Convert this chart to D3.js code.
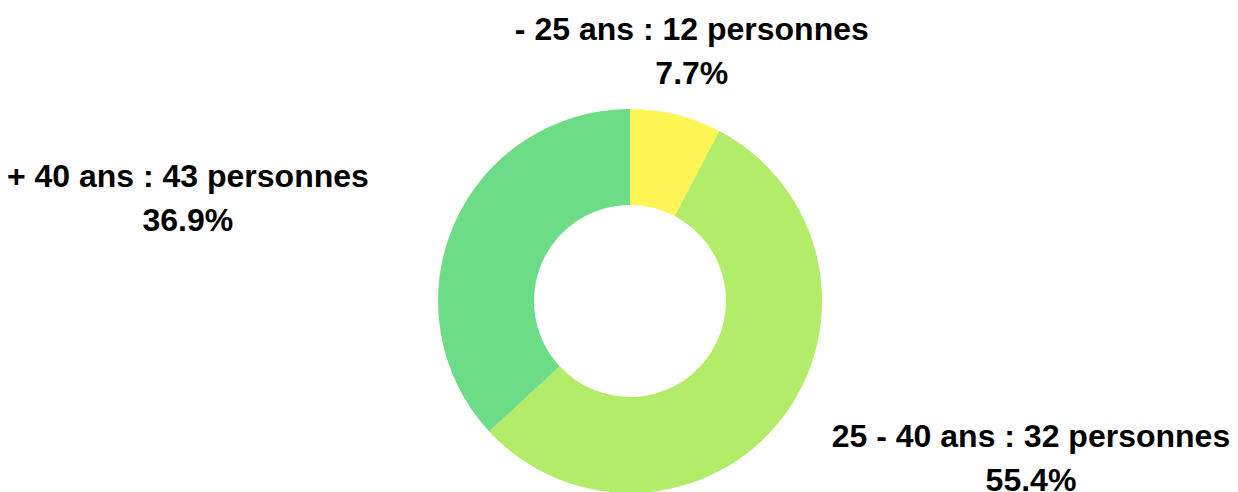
<!DOCTYPE html>
<html>
<head>
<meta charset="utf-8">
<script src="https://cdn.jsdelivr.net/npm/d3@7"></script>
<style>
  body { margin: 0; background: #fff; }
  text { font-family: "Liberation Sans", Arial, sans-serif; font-weight: bold; }
</style>
</head>
<body>
<div id="chart"></div>
<script>
// Donut chart - age groups

const width = 1238,
    height = 492,
    cx = 630, cy = 301,
    outerR = 192, innerR = 96,
    labelR = 258;

const categories = ["- 25 ans", "25 - 40 ans", "+ 40 ans"];
const counts = [12, 32, 43];
const percents = [7.7, 55.4, 36.9];
const colors = ["#fff655", "#b2ec69", "#6ddc87"];

const data = categories.map((c, i) => ({ name: c, count: counts[i], pct: percents[i], color: colors[i] }));

const svg = d3.select("#chart")
  .append("svg")
  .attr("width", width)
  .attr("height", height);

const pie = d3.pie()
  .value(d => d.pct)
  .sort(null);

const arc = d3.arc()
  .innerRadius(innerR)
  .outerRadius(outerR);

const arcs = pie(data);

const g = svg.append("g")
  .attr("transform", `translate(${cx},${cy})`);

g.selectAll("path")
  .data(arcs)
  .join("path")
  .attr("d", arc)
  .attr("fill", d => d.data.color);

// labels placed outward from each slice's middle angle
const labels = g.selectAll("g.label")
  .data(arcs)
  .join("g")
  .attr("class", "label");

labels.append("text")
  .attr("class", "l1")
  .attr("text-anchor", "middle")
  .attr("font-size", 32)
  .attr("fill", "#000")
  .attr("dy", -11)
  .text(d => `${d.data.name} : ${d.data.count} personnes`);

labels.append("text")
  .attr("text-anchor", "middle")
  .attr("font-size", 32)
  .attr("fill", "#000")
  .attr("dy", 33)
  .text(d => `${d.data.pct}%`);

labels.attr("transform", function(d) {
  const a = (d.startAngle + d.endAngle) / 2;
  const w = d3.select(this).select("text.l1").node().getComputedTextLength();
  const s = Math.sin(a);
  // side labels are pushed away from the ring by about their half width
  const shift = Math.abs(s) > 0.5 ? s * w / 2 * 1.24 : 0;
  const x = labelR * s + shift;
  const y = -labelR * Math.cos(a);
  return `translate(${x},${y})`;
});
</script>
</body>
</html>
